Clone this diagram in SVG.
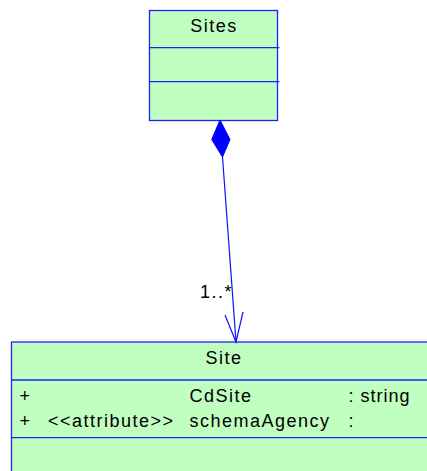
<svg xmlns="http://www.w3.org/2000/svg" width="427" height="471" viewBox="0 0 427 471">
<style>
.box{fill:#c0ffc0;stroke:#2020ff;stroke-width:1.3}
.sep{stroke:#2020ff;stroke-width:1.3;fill:none}
.t{font-family:"Liberation Sans",Arial,sans-serif;font-size:18px;letter-spacing:1.5px;fill:#000}
.c{stroke:#1010ff;stroke-width:1.2;fill:none}
</style>
<rect width="427" height="471" fill="#fff"/>
<g id="Sites">
<rect class="box" x="149.5" y="10.5" width="128" height="110"/>
<line class="sep" x1="149.5" y1="47.7" x2="279.5" y2="47.7"/>
<line class="sep" x1="149.5" y1="81.7" x2="279.5" y2="81.7"/>
<text class="t" x="214" y="32" text-anchor="middle">Sites</text>
</g>
<g id="Site">
<rect class="box" x="11.5" y="342" width="424" height="140"/>
<line class="sep" x1="11.5" y1="380" x2="427" y2="380"/>
<line class="sep" x1="11.5" y1="437.7" x2="427" y2="437.7"/>
<text class="t" x="224" y="363.5" text-anchor="middle">Site</text>
<text class="t" x="19.5" y="401.7">+</text>
<text class="t" x="189.5" y="401.7">CdSite</text>
<text class="t" x="348.5" y="401.7" style="letter-spacing:1px">: string</text>
<text class="t" x="19.5" y="426.7">+</text>
<text class="t" x="48" y="426.7">&lt;&lt;attribute&gt;&gt;</text>
<text class="t" x="189.5" y="426.7">schemaAgency</text>
<text class="t" x="348.5" y="426.7">:</text>
</g>
<g id="connectors">
<polygon points="220,120 230,139.5 222.5,157 211.7,139.5" fill="#0000ff" stroke="#0000ff" stroke-width="1"/>
<line class="c" x1="222.5" y1="157" x2="236" y2="342"/>
<polyline class="c" points="225,315 236,342 243,312"/>
<text class="t" x="200" y="297.5">1..*</text>
</g>
</svg>
